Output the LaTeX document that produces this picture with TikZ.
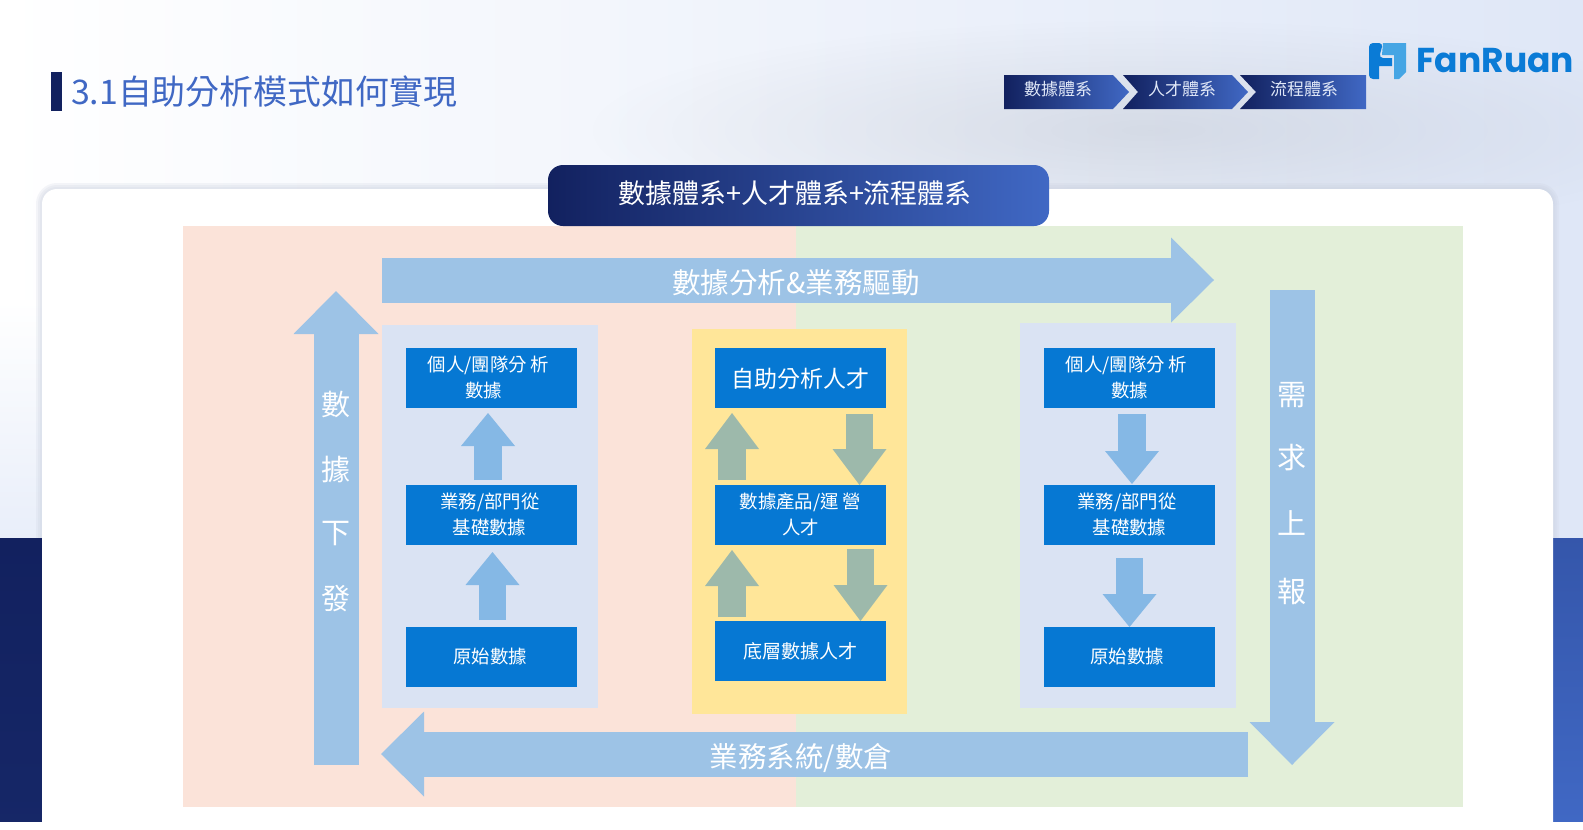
\documentclass[tikz,border=0pt]{standalone}
\usepackage{fontspec}
\setmainfont{Noto Sans CJK TC}
\newfontfamily\logofont{Poppins}
\usepackage{xcolor}
\usetikzlibrary{arrows.meta,positioning,fadings}
\definecolor{navy}{HTML}{12215F}
\definecolor{royal}{HTML}{4068C4}
\definecolor{haze}{HTML}{DFE7F7}
\definecolor{peach}{HTML}{FBE3D9}
\definecolor{sage}{HTML}{E3EFD9}
\definecolor{groupblue}{HTML}{DAE3F3}
\definecolor{groupyellow}{HTML}{FFE699}
\definecolor{boxblue}{HTML}{0678D3}
\definecolor{armblue}{HTML}{9DC3E6}
\definecolor{tipblue}{HTML}{85B8E5}
\definecolor{tipgreen}{HTML}{9DB9AB}
\definecolor{logoblue}{HTML}{0A7BD6}
\definecolor{logolight}{HTML}{45A5E4}
\tikzfading[name=softblob,inner color=transparent!75,outer color=transparent!100]

\begin{document}
\begin{tikzpicture}[
  x=1pt,y=-1pt,
  node distance=77pt and 138pt,
  every node/.style={text=white,align=center,inner sep=0pt,outer sep=0pt},
  bluebox/.style={fill=boxblue,minimum width=171pt,minimum height=60pt,text depth=3pt,font=\fontsize{18.4}{26}\selectfont},
  biglabel/.style={font=\fontsize{28.5}{34}\selectfont},
  vertlabel/.style={font=\fontsize{29}{34}\selectfont},
  crumb/.style={font=\fontsize{17}{20}\selectfont,text=haze},
  bigarr/.style={-{Triangle[length=43pt,width=85pt,line width=0pt]},line width=45pt,draw=armblue},
  smallarr/.style={-{Triangle[length=33pt,width=54pt,line width=0pt]},line width=27.5pt,draw=tipblue},
  midarr/.style={-{Triangle[length=36pt,width=54pt,line width=0pt]},line width=27.5pt,draw=tipgreen}
]
\useasboundingbox (0,0) rectangle (1583,830);

% page background
\fill[white] (0,0) rectangle (1583,830);
\shade[left color=white,middle color=white!80!haze,right color=haze] (0,0) rectangle (1583,538);
\shade[top color=white,bottom color=haze!70] (0,300) rectangle (42,538);
\fill[black!30!haze,path fading=softblob] (1150,130) ellipse (560 and 110);
\foreach \w in {12,8,4}
  \draw[black!10!haze,opacity=.2,line width=\w pt,rounded corners=15pt] (42,189) rectangle (1553,845);
\shade[top color=navy,bottom color=navy!92!royal] (0,538) rectangle (42,822);
\shade[top color=navy!25!royal,bottom color=royal] (1553,538) rectangle (1583,822);
\fill[white,rounded corners=15pt] (42,189) rectangle (1553,845);
\fill[white] (0,822) rectangle (1583,830);

% title and breadcrumb
\fill[navy] (51,72) rectangle (62,111);
\node[anchor=west,text=royal,font=\fontsize{33.9}{40}\selectfont] (title) at (71,91.5) {3.1自助分析模式如何實現};
\shade[left color=navy,right color=royal] (1004,75) -- (1113,75) -- (1129,92) -- (1113,109) -- (1004,109) -- cycle;
\shade[left color=navy,right color=royal] (1123,75) -- (1232,75) -- (1248,92) -- (1232,109) -- (1123,109) -- (1138,92) -- cycle;
\shade[left color=navy,right color=royal] (1240,75) -- (1366,75) -- (1366,109) -- (1240,109) -- (1256,92) -- cycle;
\node[crumb] (crumbdata) at (1058,89) {數據體系};
\node[crumb] (crumbtalent) at (1182,89) {人才體系};
\node[crumb] (crumbflow) at (1304,89) {流程體系};

% logo
\fill[logoblue,rounded corners=4pt] (1379,79) -- (1369,79) -- (1369,43) -- (1383,43) -- (1379,58) [sharp corners] -- (1392,58) -- (1392,66) -- (1379,66) -- cycle;
\fill[logolight] (1383,43) -- (1406,43) -- (1406,72) -- (1399,79) -- (1394,79) -- (1394,55) -- (1382,55) -- cycle;
\node[anchor=west,text=logoblue,font=\logofont\bfseries\fontsize{34.5}{40}\selectfont] (logotext) at (1416,61) {FanRuan};

% coloured panels
\fill[peach] (183,226) rectangle (796,807);
\fill[sage] (796,226) rectangle (1463,807);
\fill[groupblue] (382,325) rectangle (598,708);
\fill[groupyellow] (692,329) rectangle (907,714);
\fill[groupblue] (1020,323) rectangle (1236,708);

% header pill
\shade[left color=navy,right color=royal,rounded corners=15pt] (548,165) rectangle (1049,226);
\node[font=\fontsize{27}{32}\selectfont] (header) at (795,193) {數據體系+人才體系+流程體系};

% boxes
\node[bluebox] (ltop) at (491.5,378) {個人/團隊分 析\hspace*{6pt}\\數據\hspace*{16pt}};
\node[bluebox,below=of ltop] (lmid) {業務/部門從\hspace*{3pt}\\基礎數據\hspace*{4pt}};
\node[bluebox,below=82pt of lmid] (lsrc) {原始數據\hspace*{3pt}};
\node[bluebox,right=of ltop,text depth=0pt,font=\fontsize{23}{28}\selectfont] (mtop) {自助分析人才};
\node[bluebox,below=of mtop] (mmid) {數據產品/運 營\\人才};
\node[bluebox,below=76pt of mmid,text depth=1pt,font=\fontsize{19}{26}\selectfont] (mlow) {底層數據人才};
\node[bluebox,right=158pt of mtop] (rtop) {個人/團隊分 析\hspace*{6pt}\\數據};
\node[bluebox,below=of rtop] (rmid) {業務/部門從\hspace*{5pt}\\基礎數據};
\node[bluebox,below=82pt of rmid] (rsrc) {原始數據\hspace*{5pt}};

% small arrows between boxes
\draw[smallarr] ([xshift=-3.5pt,yshift=5pt]lmid.north) -- ([xshift=-3.5pt,yshift=-5pt]ltop.south);
\draw[smallarr] ([xshift=1pt,yshift=7pt]lsrc.north) -- ([xshift=1pt,yshift=-7pt]lmid.south);
\draw[smallarr] ([xshift=2.5pt,yshift=-6pt]rtop.south) -- ([xshift=2.5pt,yshift=1pt]rmid.north);
\draw[smallarr] ([yshift=-13pt]rmid.south) -- (rsrc.north);
\draw[midarr] ([xshift=-68.5pt,yshift=5pt]mmid.north) -- ([xshift=-68.5pt,yshift=-5pt]mtop.south);
\draw[midarr] ([xshift=-68.5pt,yshift=4pt]mlow.north) -- ([xshift=-68.5pt,yshift=-5pt]mmid.south);
\draw[midarr] ([xshift=59pt,yshift=-6pt]mtop.south) -- ([xshift=59pt]mmid.north);
\draw[midarr] ([xshift=60pt,yshift=-4pt]mmid.south) -- ([xshift=60pt]mlow.north);

% loop of big arrows
\coordinate (topstart) at (382,280);
\coordinate (topend) at (1214,280);
\coordinate (rightstart) at (1292,290);
\coordinate (rightend) at (1292,765);
\coordinate (lowstart) at (1248,754);
\coordinate (lowend) at (381,754);
\coordinate (leftstart) at (336,765);
\coordinate (leftend) at (336,291);
\draw[bigarr] (topstart) -- (topend);
\draw[bigarr] (rightstart) -- (rightend);
\draw[bigarr] (lowstart) -- (lowend);
\draw[bigarr] (leftstart) -- (leftend);

% labels on the big arrows
\node[biglabel] (toplabel) at (796,283) {數據分析\&業務驅動};
\node[biglabel] (lowlabel) at (801,758) {業務系統/數倉};
\node[vertlabel] (down1) at (336,404) {數};
\node[vertlabel] (down2) at (336,469) {據};
\node[vertlabel] (down3) at (336,534) {下};
\node[vertlabel] (down4) at (336,599) {發};
\node[vertlabel] (up1) at (1292,395) {需};
\node[vertlabel] (up2) at (1292,458) {求};
\node[vertlabel] (up3) at (1292,523) {上};
\node[vertlabel] (up4) at (1292,592) {報};
\end{tikzpicture}
\end{document}
